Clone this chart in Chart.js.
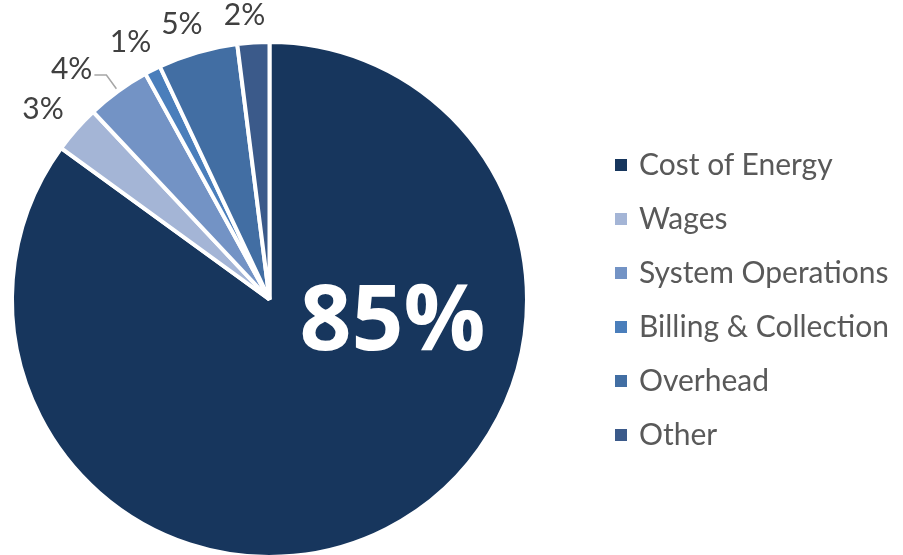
<!DOCTYPE html>
<html>
<head>
<meta charset="utf-8">
<script src="https://cdn.jsdelivr.net/npm/chart.js@4.4.1/dist/chart.umd.min.js"></script>
<style>
  html, body { margin: 0; padding: 0; background: #fff; overflow: hidden; width: 903px; height: 555px; }
  #wrap { position: absolute; left: 0; top: 0; width: 903px; height: 600px; }
  #legend { position: absolute; left: 615px; top: 143px; font-family: Lato, "Noto Sans", sans-serif; font-size: 30px; color: #595959; }
  #legend .item { height: 54px; line-height: 40px; white-space: nowrap; }
  #legend .box { display: inline-block; width: 12px; height: 12px; margin-right: 12px; vertical-align: middle; position: relative; top: -2px; }
</style>
</head>
<body>
<div id="wrap"><canvas id="myChart" width="903" height="600"></canvas></div>
<div id="legend"></div>
<script>
// data
const categories = ['Cost of Energy', 'Wages', 'System Operations', 'Billing & Collection', 'Overhead', 'Other'];
const shares = [85, 3, 4, 1, 5, 2];
const sliceColors = ['#17365d', '#a4b5d6', '#7393c5', '#4a7ebb', '#426ea3', '#3b5a8a'];

// html legend
const legend = document.getElementById('legend');
categories.forEach(function (name, i) {
  const row = document.createElement('div');
  row.className = 'item';
  const box = document.createElement('span');
  box.className = 'box';
  box.style.background = sliceColors[i];
  row.appendChild(box);
  row.appendChild(document.createTextNode(name));
  legend.appendChild(row);
});

// percent labels: big one inside, small ones outside
const pctLabels = {
  id: 'pctLabels',
  afterDatasetsDraw(chart) {
    const ctx = chart.ctx;
    const arcs = chart.getDatasetMeta(0).data;
    ctx.save();
    arcs.forEach(function (arc, i) {
      const mid = (arc.startAngle + arc.endAngle) / 2;
      const R = arc.outerRadius;
      const txt = shares[i] + '%';
      if (i === 0) {
        ctx.fillStyle = '#fff';
        ctx.font = 'bold 91px "Open Sans", sans-serif';
        ctx.textAlign = 'center';
        ctx.textBaseline = 'middle';
        ctx.fillText(txt, arc.x + 123, arc.y + 25);
        return;
      }
      ctx.fillStyle = '#404040';
      ctx.font = '30px Lato, "Noto Sans", sans-serif';
      ctx.textBaseline = 'middle';
      if (shares[i] === 4) {
        // leader line
        const sx = arc.x + Math.cos(mid) * (R + 3), sy = arc.y + Math.sin(mid) * (R + 3);
        const ex = arc.x + Math.cos(mid) * (R + 20), ey = arc.y + Math.sin(mid) * (R + 20);
        ctx.strokeStyle = '#a6a6a6';
        ctx.lineWidth = 1.5;
        ctx.beginPath();
        ctx.moveTo(sx, sy);
        ctx.lineTo(ex, ey);
        ctx.lineTo(ex - 12, ey);
        ctx.stroke();
        ctx.textAlign = 'right';
        ctx.fillText(txt, ex - 14, ey - 6);
      } else {
        // push the text box out until it clears the rim
        const a = mid - 0.025;
        const w = ctx.measureText(txt).width, h = 22;
        const d = R + 15 + Math.abs(Math.cos(a)) * w / 2 + Math.abs(Math.sin(a)) * h / 2;
        ctx.textAlign = 'center';
        ctx.fillText(txt, arc.x + Math.cos(a) * d, arc.y + Math.sin(a) * d);
      }
    });
    ctx.restore();
  }
};

const config = {
  type: 'pie',
  data: {
    labels: categories,
    datasets: [{
      data: shares,
      backgroundColor: sliceColors,
      borderColor: '#fff',
      borderWidth: 4
    }]
  },
  options: {
    responsive: false,
    animation: false,
    layout: { padding: { left: 10, top: 40, right: 374, bottom: 41 } },
    plugins: {
      legend: { display: false },
      tooltip: { enabled: false }
    }
  },
  plugins: [pctLabels]
};

const myChart = new Chart(document.getElementById('myChart'), config);
</script>
</body>
</html>
